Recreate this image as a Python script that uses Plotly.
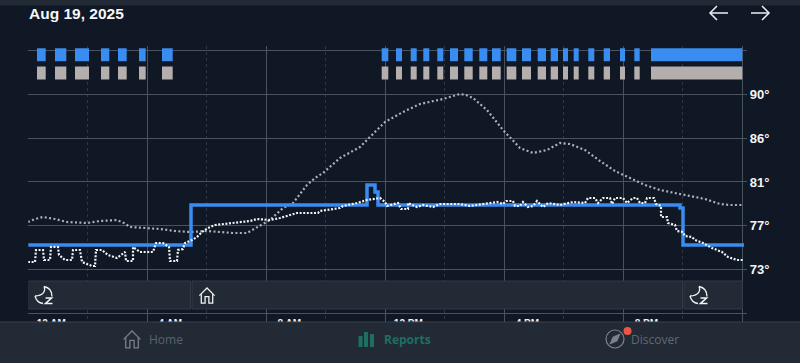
import plotly.graph_objects as go

W, H = 800, 363
# --- pixel calibration of the axes
X0, PXH = 28.3, 29.75
Y73, PXD = 269.7, 10.32

def hx(p):
    return (p - X0) / PXH

def ty(p):
    return 73 + (Y73 - p) / PXD

# --- data (pixel readings converted through hx/ty)
outdoor_px = [(28,222),(35,219),(43,217),(55,219),(67,222),(87,223),(100,221),(117,220),(124,223),(130,227),(145,228),(160,229),(175,231),(190,232),(207,231),(220,232),(233,233),(247,233),(257,227),(270,220),(283,208),(293,203),(307,185),(315,178),(323,173),(340,158),(360,147),(370,137),(385,122),(403,112),(420,104),(443,99),(455,95),(460,94),(466,95),(473,98),(487,110),(503,130),(520,148),(533,153),(547,150),(560,143),(570,144),(585,150),(600,161),(615,171),(630,178),(645,185),(660,190),(675,193),(690,196),(705,199),(720,204),(730,205),(742,205)]
indoor_px = [(28,262),(35,262),(36,250),(43,250),(44,260),(50,260),(51,247),(58,247),(59,255),(65,260),(72,260),(73,250),(80,250),(82,262),(92,266),(95,266),(96,250),(102,250),(108,255),(117,258),(125,252),(126,261),(133,261),(133,247),(140,252),(153,252),(156,243),(163,243),(169,247),(170,261),(177,261),(178,250),(183,249),(185,243),(192,240),(197,237),(202,232),(208,228),(215,225),(233,223),(250,221),(257,219),(270,220),(280,218),(297,213),(318,213),(320,211),(340,208),(343,206),(357,203),(367,200),(380,198),(385,202),(387,206),(398,203),(401,209),(408,209),(408,203),(417,207),(423,205),(433,207),(440,204),(460,204),(470,206),(488,203),(497,202),(503,204),(506,201),(513,201),(515,206),(520,206),(523,202),(528,207),(533,206),(537,201),(543,207),(548,203),(560,205),(573,202),(585,203),(588,198),(595,198),(598,203),(603,198),(610,198),(612,204),(615,198),(623,198),(627,203),(633,198),(637,198),(640,203),(645,203),(647,198),(654,198),(656,204),(661,206),(661,217),(667,217),(668,223),(675,225),(677,231),(683,232),(685,236),(692,237),(695,240),(703,243),(712,248),(722,252),(728,257),(737,260),(743,260)]
setpoint_px = [(28,245),(191,245),(191,205),(367,205),(367,185),(375,185),(375,192),(378,192),(378,205),(680,205),(680,208),(683,208),(683,245),(744,245)]
runs_px = [(37,45.7),(55,66.3),(75,89),(101,109.3),(118,126.7),(139,145.7),(162,172.7),(381.7,388.3),(396,402),(410.7,416.7),(423.3,429.3),(437.3,443.3),(450,458),(464.3,472.7),(479.3,487.3),(492,500.7),(506.7,516.3),(522,531),(537.7,546),(550.7,558),(563,568),(573.7,578.7),(588.3,594.3),(603.7,610),(620,625),(634.3,639.7),(651,742.3)]
modes_px = [(28.3,190.5),(192,682.5),(684,742.3)]
x_ticks = [0, 4, 8, 12, 16, 20, 24]
x_labels = ["12 AM", "4 AM", "8 AM", "12 PM", "4 PM", "8 PM", ""]
y_ticks = [68.75, 73, 77.25, 81.5, 85.75, 90, 94.25]
y_labels = ["", "73°", "77°", "81°", "86°", "90°", ""]

BG = "#101725"
TAB = "#222a35"
GRID = "#4a525e"
BLUE = "#3a8df0"
GREY = "#b4afac"

fig = go.Figure()

def add_bars(runs, y_px, h_px, color, line=None):
    fig.add_trace(go.Bar(
        orientation="h",
        base=[hx(a) for a, b in runs],
        x=[(b - a) / PXH for a, b in runs],
        y=[ty(y_px)] * len(runs),
        width=h_px / PXD,
        marker=dict(color=color, line=dict(width=1 if line else 0, color=line or color)),
        hoverinfo="skip", showlegend=False))

add_bars(modes_px, 295, 28, TAB, "#323a46")
add_bars(runs_px, 54.8, 13, BLUE)
add_bars(runs_px, 73, 13, GREY)

fig.add_trace(go.Scatter(x=[hx(p[0]) for p in outdoor_px], y=[ty(p[1]) for p in outdoor_px],
                         mode="lines", line=dict(color="#aeb2b7", width=2.2, dash="2px 2.4px"),
                         hoverinfo="skip", showlegend=False))
fig.add_trace(go.Scatter(x=[hx(p[0]) for p in setpoint_px], y=[ty(p[1]) for p in setpoint_px],
                         mode="lines", line=dict(color=BLUE, width=3.5),
                         hoverinfo="skip", showlegend=False))
fig.add_trace(go.Scatter(x=[hx(p[0]) for p in indoor_px], y=[ty(p[1]) for p in indoor_px],
                         mode="lines", line=dict(color="#f2f4f6", width=2.2, dash="2px 1.6px"),
                         hoverinfo="skip", showlegend=False))

# --- pixel helpers for interface chrome: each command is (letter, x, y, ...)
def path(*cmds):
    out = []
    for c in cmds:
        letter, pts = c[0], c[1:]
        out.append(letter + " ".join(
            f"{pts[i]/W:.5f},{1-pts[i+1]/H:.5f}" for i in range(0, len(pts), 2)))
    return " ".join(out)

def poly(*pts):
    cmds = [("M", pts[0][0], pts[0][1])]
    cmds += [("L", p[0], p[1]) for p in pts[1:]]
    return path(*cmds)

shapes = []
def pshape(d, color, width=1.3, fill=None):
    shapes.append(dict(type="path", xref="paper", yref="paper", path=d, layer="above",
                       line=dict(color=color, width=width), fillcolor=fill or "rgba(0,0,0,0)"))
def rect(x0, y0, x1, y1, fill, line=None):
    shapes.append(dict(type="rect", xref="paper", yref="paper", x0=x0/W, x1=x1/W, y0=1-y0/H, y1=1-y1/H,
                       layer="above", fillcolor=fill, line=dict(width=1 if line else 0, color=line or fill)))

def moon(dx, color="#f0f2f4"):
    pshape(path(("M",dx+9.5,286.5),("C",dx+14.5,287.5,dx+17.5,291.5,dx+17.5,296.5)), color)
    pshape(path(("M",dx+0.5,296),("C",dx+1.5,300,dx+4.5,303,dx+8.5,303.5)), color)
    pshape(path(("M",dx+9.5,286.5),("C",dx+11.5,291,dx+8.5,296,dx+0.5,296)), color)
    pshape(poly((dx+11,298),(dx+17,298),(dx+11,303.5),(dx+18,303.5)), color, 1.6)

def house(cx, top, s, color):
    pshape(poly((cx-8*s,top+8*s),(cx,top),(cx+8*s,top+8*s)), color)
    pshape(poly((cx-6*s,top+6.5*s),(cx-6*s,top+16*s),(cx-2*s,top+16*s),(cx-2*s,top+9*s),
                (cx+2*s,top+9*s),(cx+2*s,top+16*s),(cx+6*s,top+16*s),(cx+6*s,top+6.5*s)), color)

# top strip and tab bar
rect(0, 0, W, 5.5, TAB)
rect(0, 322, W, H, TAB)
shapes.append(dict(type="line", xref="paper", yref="paper", x0=0, x1=1, y0=1-322/H, y1=1-322/H,
                   layer="above", line=dict(color="#3a424e", width=1)))
# band icons
moon(34.5)
moon(689.5)
house(207, 288, 0.95, "#f0f2f4")
# nav arrows
pshape(poly((728,13),(710,13)), "#eef0f2", 1.5)
pshape(poly((717,6),(710,13),(717,20)), "#eef0f2", 1.5)
pshape(poly((751,13),(769,13)), "#eef0f2", 1.5)
pshape(poly((762,6),(769,13),(762,20)), "#eef0f2", 1.5)
# tab icons
house(132, 331, 1.05, "#78808a")
for x0, y0 in ((358.5, 336), (364, 332), (370, 334)):
    rect(x0, y0, x0 + 4, 347, "#1d6f63")
shapes.append(dict(type="circle", xref="paper", yref="paper", x0=606/W, x1=624/W, y0=1-330/H, y1=1-348/H,
                   layer="above", line=dict(color="#7b828c", width=1.2)))
pshape(poly((620,334),(617,341),(610,344),(613,337),(620,334)), "#7b828c", 0.8, "#7b828c")
shapes.append(dict(type="circle", xref="paper", yref="paper", x0=623.5/W, x1=631.5/W, y0=1-327/H, y1=1-335/H,
                   layer="above", fillcolor="#ee5544", line=dict(width=0)))

def label(text, x, y, size, color, bold=False, anchor="left", family="Liberation Sans"):
    return dict(text=text, x=x/W, y=1-y/H, xref="paper", yref="paper", xanchor=anchor, yanchor="middle",
                showarrow=False, font=dict(size=size, color=color, family=family, weight=700 if bold else 400),
                borderpad=0)

annotations = [
    label("Aug 19, 2025", 27.5, 13, 15.5, "#f6f7f8", True),
    label("Home", 148, 339.5, 12, "#5a626d", family="Open Sans"),
    label("Reports", 383, 339.5, 12, "#1f6f64", True, family="Open Sans"),
    label("Discover", 630, 339.5, 12, "#616974", family="Open Sans"),
]

fig.update_layout(
    width=W, height=H, margin=dict(l=0, r=0, t=0, b=0),
    paper_bgcolor=BG, plot_bgcolor=BG, barmode="overlay",
    shapes=shapes, annotations=annotations, showlegend=False,
    xaxis=dict(domain=[X0/W, 746.7/W], range=[0, hx(746.7)], tickmode="array",
               tickvals=x_ticks, ticktext=x_labels, showgrid=True, gridcolor=GRID, gridwidth=1,
               zeroline=False, showline=False, ticks="", ticklabelstandoff=-6, ticklabelshift=23,
               tickfont=dict(size=10, color="#f0f2f4", family="Liberation Sans", weight=700),
               minor=dict(tickmode="array", tickvals=[2, 6, 10, 14, 18, 22], showgrid=True,
                          gridcolor="#2f3744", griddash="dot", gridwidth=1)),
    yaxis=dict(domain=[1-322/H, 1-46/H], range=[ty(322), ty(46)], side="right", tickmode="array",
               tickvals=y_ticks, ticktext=y_labels, showgrid=True, gridcolor=GRID, gridwidth=1,
               zeroline=False, showline=False, ticks="", anchor="x", ticklabelstandoff=2,
               tickfont=dict(size=13, color="#f4f5f6", family="Liberation Sans", weight=700)),
)

fig.write_html("out.html", config=dict(displayModeBar=False),
               post_script="document.body.style.margin='0';document.body.style.overflow='hidden';document.body.style.background='" + BG + "';")
